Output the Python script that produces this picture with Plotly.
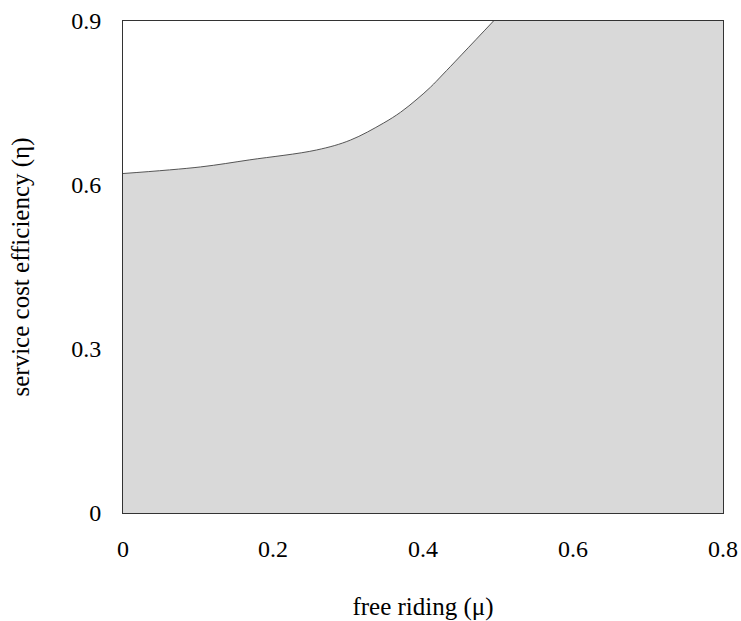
import plotly.graph_objects as go

# boundary curve
mu = [0.0, 0.103, 0.169, 0.258, 0.303, 0.347, 0.37, 0.392, 0.41, 0.427, 0.494]
eta = [0.621, 0.633, 0.646, 0.664, 0.682, 0.713, 0.733, 0.757, 0.779, 0.803, 0.9]
# flat region at the top of the chart (right of where the curve leaves the frame)
mu_top = [0.494, 0.8, 0.8, 0.494, 0.494]
eta_top = [0.9, 0.9, 0.0, 0.0, 0.9]

x_ticks = [0, 0.2, 0.4, 0.6, 0.8]
x_labels = ["0", "0.2", "0.4", "0.6", "0.8"]
y_ticks = [0, 0.3, 0.6, 0.9]
y_labels = ["0", "0.3", "0.6", "0.9"]

fill_col = "#d9d9d9"
fig = go.Figure()
fig.add_trace(go.Scatter(
    x=mu, y=eta, mode="lines", fill="tozeroy",
    fillcolor=fill_col, line=dict(width=0, color=fill_col, shape="spline", smoothing=1.0),
    showlegend=False, hoverinfo="skip",
))
fig.add_trace(go.Scatter(
    x=mu_top, y=eta_top, mode="lines", fill="toself",
    fillcolor=fill_col, line=dict(width=2, color=fill_col),
    showlegend=False, hoverinfo="skip",
))
fig.add_trace(go.Scatter(
    x=mu, y=eta, mode="lines",
    line=dict(color="#555555", width=1, shape="spline", smoothing=1.0),
    showlegend=False, hoverinfo="skip",
))

font = dict(family="Liberation Serif, Times New Roman, serif", size=24, color="#000000")
fig.update_layout(
    width=741, height=621,
    margin=dict(l=123, r=18, t=21, b=108),
    paper_bgcolor="white", plot_bgcolor="white",
    font=font,
)
fig.update_xaxes(
    range=[0, 0.8], tickvals=x_ticks, ticktext=x_labels,
    showgrid=False, zeroline=False, showline=True, mirror=True,
    linecolor="#333333", linewidth=1, ticks="",
    ticklabelstandoff=14, automargin=False,
    tickfont=dict(size=24),
    title=dict(text="free riding (μ)", font=dict(size=25), standoff=40),
)
fig.update_yaxes(
    range=[0, 0.9], tickvals=y_ticks, ticktext=y_labels,
    showgrid=False, zeroline=False, showline=True, mirror=True,
    linecolor="#333333", linewidth=1, ticks="",
    ticklabelstandoff=16, automargin=False,
    tickfont=dict(size=24),
    title=dict(text="service cost efficiency (η)", font=dict(size=25), standoff=34),
)
fig.write_html("out.html")
